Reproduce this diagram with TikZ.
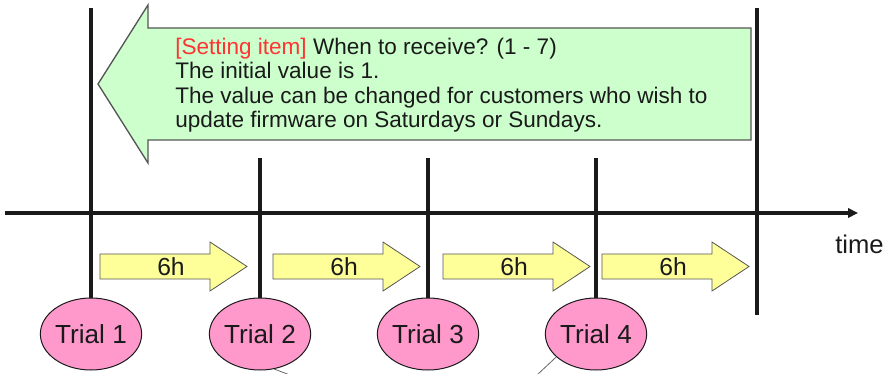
\documentclass[tikz,border=0pt]{standalone}
\usepackage{fontspec}
\setmainfont{Liberation Sans}
\usetikzlibrary{arrows.meta,shapes.geometric}
\definecolor{TLGreen}{HTML}{CCFFCC}
\definecolor{TLYellow}{HTML}{FFFF99}
\definecolor{TLPink}{HTML}{FF99CC}
\definecolor{TLRed}{HTML}{FF3333}
\definecolor{TLEdge}{HTML}{555555}
\definecolor{TLInk}{HTML}{1A1A1A}
\definecolor{TLGray}{HTML}{666666}

\tikzset{
  trial/.style={ellipse,draw=TLInk,fill=TLPink,line width=0.75pt,
    minimum width=69.75pt,minimum height=54pt,inner sep=0pt,
    text=TLInk,font=\fontsize{19.6}{21}\selectfont},
  marker/.style={TLInk,line width=2.4pt},
  gaparrow/.style={draw=TLEdge,fill=TLYellow,line width=0.6pt},
  gaplabel/.style={inner sep=0pt,text=TLInk,font=\fontsize{18.5}{20}\selectfont}
}

\begin{document}
\begin{tikzpicture}[x=0.75pt,y=-0.75pt,line join=miter]
  \path[use as bounding box] (0,0) rectangle (885,374);

  % Setting banner pointing back to the first trial.
  \draw[TLEdge,fill=TLGreen,line width=1pt]
    (98,84)--(148,5)--(148,28)--(751,28)--(751,140)--(148,140)--(148,163)--cycle;
  \node[anchor=north west,align=left,inner sep=0pt,text=TLInk,
        font=\fontsize{16.9}{18.2}\selectfont] (setting) at (175,38)
    {\textcolor{TLRed}{[Setting item]} When to receive? (1 - 7)\\
     The initial value is 1.\\
     The value can be changed for customers who wish to\\
     update firmware on Saturdays or Sundays.};

  % Time axis.
  \coordinate (axisL) at (5,213);
  \coordinate (axisR) at (858,213);
  \draw[TLInk,line width=2.8pt,-{Triangle[length=7.5pt,width=7pt]}] (axisL)--(axisR);
  \node[anchor=base west,inner sep=0pt,text=TLInk,
        font=\fontsize{19.2}{20}\selectfont] (timelabel) at (835,253) {time};

  % Trials and their markers.
  \foreach \i/\x in {1/91,2/260,3/428,4/596}
    \node[trial] (trial\i) at (\x,334) {Trial \i};

  \coordinate (start) at (91,8);
  \draw[marker] (start)--(trial1.north);
  \foreach \i/\x in {2/260,3/428,4/596} {
    \coordinate (tick\i) at (\x,158);
    \draw[marker] (tick\i)--(trial\i.north);
  }
  \coordinate (endtop) at (757,8);
  \coordinate (endbot) at (757,315);
  \draw[marker] (endtop)--(endbot);

  % 6h intervals.
  \foreach \i/\x in {1/100,2/273,3/443,4/602} {
    \draw[gaparrow] (\x,254)--(\x+110,254)--(\x+110,242)--(\x+147,266.5)
      --(\x+110,291)--(\x+110,279)--(\x,279)--cycle;
    \node[gaplabel] (gap\i) at (\x+71,266.5) {6h};
  }

  % Leads running off the bottom edge.
  \coordinate (offA) at (290,375);
  \coordinate (offB) at (537,375);
  \draw[TLGray,line width=0.6pt] (trial2.-68)--(offA);
  \draw[TLGray,line width=0.6pt] (trial4.-150)--(offB);
\end{tikzpicture}
\end{document}
